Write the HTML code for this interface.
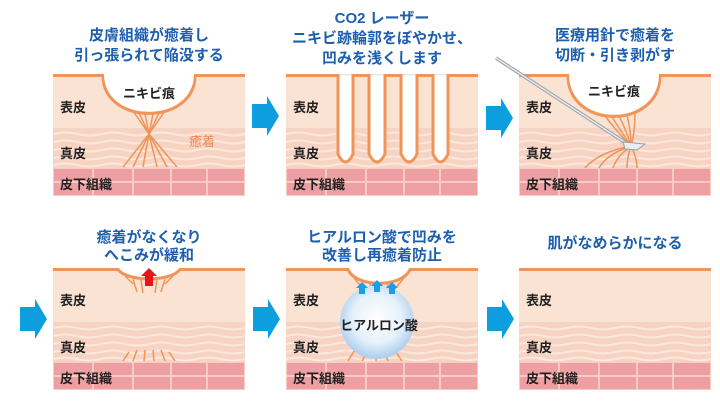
<!DOCTYPE html>
<html><head><meta charset="utf-8"><style>
html,body{margin:0;padding:0;background:#fff;width:720px;height:405px;overflow:hidden}
svg{display:block}
.t{font-family:"Liberation Sans","Noto Sans CJK JP",sans-serif;font-weight:bold;fill:#1d5fae;font-size:15px;text-anchor:middle}
.l{font-family:"Liberation Sans","Noto Sans CJK JP",sans-serif;font-weight:bold;fill:#222;font-size:13px}
</style></head><body>
<svg width="720" height="405" viewBox="0 0 720 405" xmlns="http://www.w3.org/2000/svg">
<defs>
<g id="base">
 <rect x="0" y="0" width="192" height="122" fill="#fbe3d3"/>
 <rect x="0" y="54" width="192" height="40" fill="#f6d3c2"/>
 <g stroke="#fbe8dc" stroke-width="2" fill="none">
  <path d="M0 60 Q12 57 24 60 T48 60 T72 60 T96 60 T120 60 T144 60 T168 60 T192 60"/>
  <path d="M0 68 Q12 65 24 68 T48 68 T72 68 T96 68 T120 68 T144 68 T168 68 T192 68"/>
  <path d="M0 76 Q12 73 24 76 T48 76 T72 76 T96 76 T120 76 T144 76 T168 76 T192 76"/>
  <path d="M0 84 Q12 81 24 84 T48 84 T72 84 T96 84 T120 84 T144 84 T168 84 T192 84"/>
  <path d="M0 91 Q12 88 24 91 T48 91 T72 91 T96 91 T120 91 T144 91 T168 91 T192 91"/>
 </g>
 <rect x="0" y="94" width="192" height="28" fill="#f8cdbf"/>
 <g fill="#ee9fa4">
  <rect x="1" y="95" width="38" height="12"/><rect x="41" y="95" width="38" height="12"/><rect x="81" y="95" width="36" height="12"/><rect x="119" y="95" width="34" height="12"/><rect x="155" y="95" width="36" height="12"/>
  <rect x="1" y="109" width="38" height="12"/><rect x="41" y="109" width="38" height="12"/><rect x="81" y="109" width="36" height="12"/><rect x="119" y="109" width="34" height="12"/><rect x="155" y="109" width="36" height="12"/>
 </g>
</g>
<g id="arrow"><path d="M0 -12 H15 V-20 L27 0 L15 20 V12 H0 Z" fill="#0d9ee0"/></g>
</defs>

<text class="t" x="149" y="40">皮膚組織が癒着し</text>
<text class="t" x="149" y="60">引っ張られて陥没する</text>
<text class="t" x="382" y="23">CO2 レーザー</text>
<text class="t" x="382" y="43">ニキビ跡輪郭をぼやかせ、</text>
<text class="t" x="382" y="63">凹みを浅くします</text>
<text class="t" x="615" y="40">医療用針で癒着を</text>
<text class="t" x="615" y="60">切断・引き剥がす</text>
<text class="t" x="149" y="242">癒着がなくなり</text>
<text class="t" x="149" y="260">へこみが緩和</text>
<text class="t" x="382" y="242">ヒアルロン酸で凹みを</text>
<text class="t" x="382" y="260">改善し再癒着防止</text>
<text class="t" x="615" y="248">肌がなめらかになる</text>

<use href="#arrow" x="252" y="116"/>
<use href="#arrow" x="486" y="118"/>
<use href="#arrow" x="20" y="319"/>
<use href="#arrow" x="253" y="319"/>
<use href="#arrow" x="487" y="319"/>

<g transform="translate(53,74)">
 <use href="#base"/>
 <path d="M0 1.5 H50 C50 52 142 52 142 1.5 H192" fill="none" stroke="#f0955a" stroke-width="3"/>
 <path d="M51 0 C51 50 141 50 141 0 Z" fill="#fff"/>
 <g stroke="#ef9558" stroke-width="1.5" fill="none">
  <path d="M80 37 L96 60 L70 93"/><path d="M86 39 L96 60 L80 93"/><path d="M92 40 L96 60 L90 93"/><path d="M100 40 L96 60 L104 93"/><path d="M106 39 L96 60 L114 93"/><path d="M112 37 L96 60 L124 93"/>
 </g>
 <text class="l" x="96" y="24" text-anchor="middle">ニキビ痕</text>
 <text class="l" x="136" y="72" style="fill:#ef8a4e;font-weight:normal">癒着</text>
 <text class="l" x="7" y="38">表皮</text>
 <text class="l" x="7" y="84">真皮</text>
 <text class="l" x="7" y="115">皮下組織</text>
</g>

<g transform="translate(286,74)">
 <use href="#base"/>
 <path d="M0 1.5 H52 V80 Q59.5 96 67 80 V1.5 H83 V80 Q91 96 99 80 V1.5 H115 V80 Q123 96 131 80 V1.5 H147 V80 Q154.5 96 162 80 V1.5 H192" fill="#fff" stroke="#f0955a" stroke-width="3"/>
 <rect x="0" y="-2" width="53" height="2" fill="#fff"/>
 <text class="l" x="7" y="38">表皮</text>
 <text class="l" x="7" y="84">真皮</text>
 <text class="l" x="7" y="115">皮下組織</text>
</g>

<g transform="translate(519,74)">
 <use href="#base"/>
 <path d="M0 1.5 H49 C49 56 141 56 141 1.5 H192" fill="none" stroke="#f0955a" stroke-width="3"/>
 <path d="M50 0 C50 54 140 54 140 0 Z" fill="#fff"/>
 <g stroke="#ef9558" stroke-width="1.5" fill="none">
  <path d="M86 42 Q100 60 112 72"/><path d="M93 43 Q104 60 112 72"/><path d="M100 42 Q108 58 112 72"/><path d="M108 41 Q112 58 112 72"/><path d="M116 39 Q116 58 112 72"/>
  <path d="M112 72 Q80 78 66 94"/><path d="M112 72 Q88 80 80 94"/><path d="M112 72 Q98 82 94 94"/><path d="M112 72 Q108 84 108 94"/><path d="M112 72 Q118 84 118 94"/>
 </g>
 <path d="M-23 -16 L110 71" stroke="#9aa0a6" stroke-width="3.5"/>
 <path d="M-23 -16 L110 71" stroke="#e8ecef" stroke-width="1.5"/>
 <path d="M104 68 L126 70 L118 76 L106 75 Z" fill="#e8ecef" stroke="#9aa0a6" stroke-width="1"/>
 <text class="l" x="95" y="22" text-anchor="middle">ニキビ痕</text>
 <text class="l" x="7" y="38">表皮</text>
 <text class="l" x="7" y="84">真皮</text>
 <text class="l" x="7" y="115">皮下組織</text>
</g>

<g transform="translate(53,268)">
 <use href="#base"/>
 <path d="M0 1.5 H65 C74 14 118 14 127 1.5 H192" fill="none" stroke="#f0955a" stroke-width="3"/>
 <path d="M66 0 C75 12 117 12 126 0 Z" fill="#fff"/>
 <g stroke="#ef9558" stroke-width="1.5">
  <path d="M72 8 L80 16"/><path d="M80 11 L84 24"/><path d="M88 12 L90 25"/><path d="M104 12 L102 25"/><path d="M112 11 L108 24"/><path d="M120 8 L112 16"/>
  <path d="M76 84 L70 93"/><path d="M84 82 L80 93"/><path d="M92 82 L91 93"/><path d="M100 82 L101 93"/><path d="M108 82 L112 93"/><path d="M116 84 L122 93"/>
 </g>
 <path d="M96 0 L104 8 H100 V18 H92 V8 H88 Z" fill="#e8141c"/>
 <text class="l" x="7" y="37">表皮</text>
 <text class="l" x="7" y="84">真皮</text>
 <text class="l" x="7" y="115">皮下組織</text>
</g>

<g transform="translate(286,268)">
 <use href="#base"/>
 <defs><radialGradient id="sph" cx="0.5" cy="0.45" r="0.55"><stop offset="0" stop-color="#fff"/><stop offset="0.6" stop-color="#e6f1fb"/><stop offset="1" stop-color="#a9cdee"/></radialGradient></defs>
 <path d="M0 1.5 H62 C70 20 116 20 124 1.5 H192" fill="none" stroke="#f0955a" stroke-width="3"/>
 <path d="M63 0 C71 18 115 18 123 0 Z" fill="#fff"/>
 <g stroke="#ef9558" stroke-width="1.5">
  <path d="M68 10 L78 22"/><path d="M118 10 L108 22"/><path d="M84 16 L86 26"/><path d="M102 16 L100 26"/>
  <path d="M70 80 L62 93"/><path d="M80 86 L76 93"/><path d="M90 88 L90 93"/><path d="M100 88 L102 93"/><path d="M110 84 L116 93"/>
 </g>
 <circle cx="91" cy="54" r="37" fill="url(#sph)"/>
 <g fill="#1aa0e8">
  <path d="M76 14 L82 20 H79 V26 H73 V20 H70 Z"/>
  <path d="M91 12 L97 18 H94 V24 H88 V18 H85 Z"/>
  <path d="M106 14 L112 20 H109 V26 H103 V20 H100 Z"/>
 </g>
 <text class="l" x="93" y="62" text-anchor="middle">ヒアルロン酸</text>
 <text class="l" x="7" y="37">表皮</text>
 <text class="l" x="7" y="84">真皮</text>
 <text class="l" x="7" y="115">皮下組織</text>
</g>

<g transform="translate(519,268)">
 <use href="#base"/>
 <path d="M0 1.5 H192" stroke="#f0955a" stroke-width="3"/>
 <text class="l" x="7" y="37">表皮</text>
 <text class="l" x="7" y="84">真皮</text>
 <text class="l" x="7" y="115">皮下組織</text>
</g>
</svg>
</body></html>
